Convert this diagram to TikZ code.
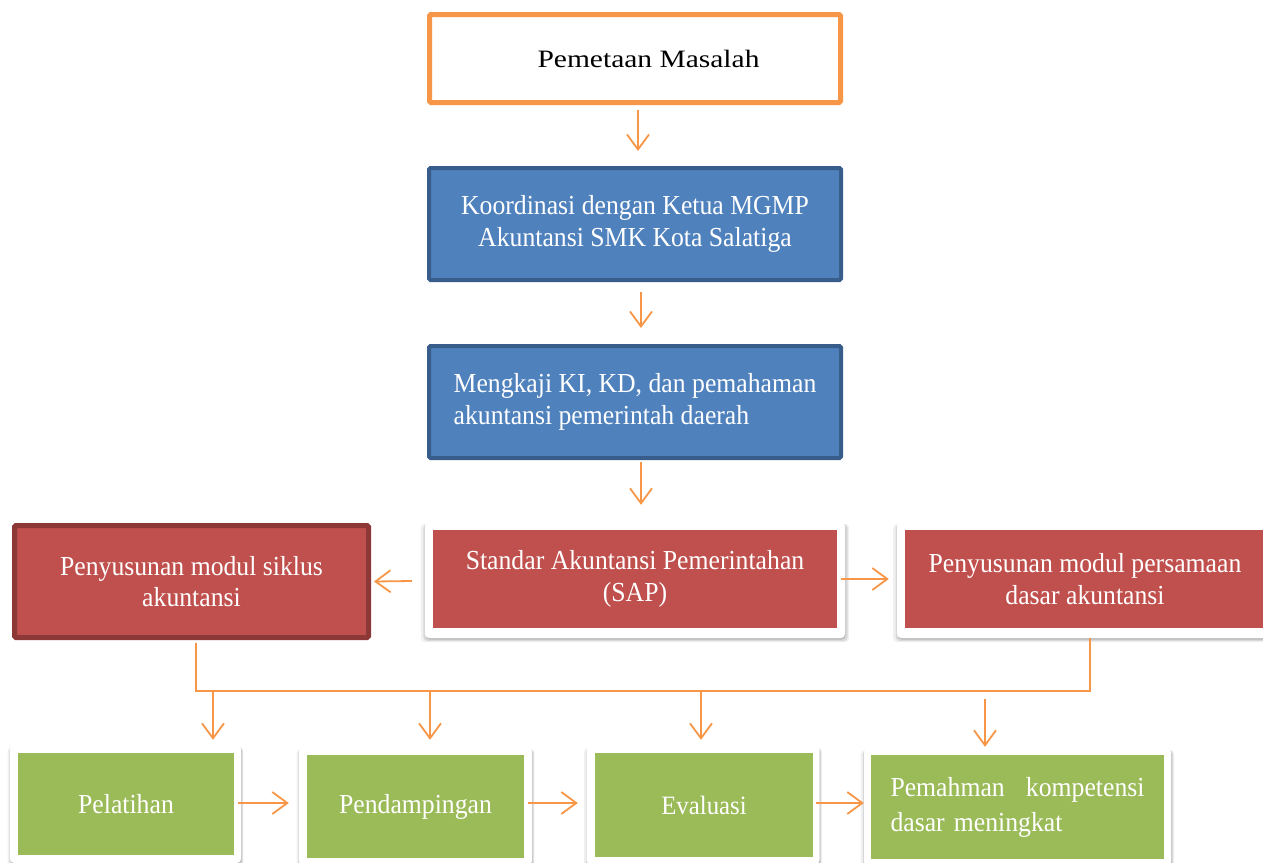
\documentclass[tikz,border=0pt]{standalone}
\usepackage{fontspec}
\setmainfont[FakeStretch=0.935]{Liberation Serif}
\newfontfamily\widefont[FakeStretch=1.18]{Liberation Serif}
\usetikzlibrary{arrows.meta,shadows,calc}
\definecolor{orng}{HTML}{F79646}
\definecolor{blu}{HTML}{4F81BD}
\definecolor{bludk}{HTML}{385D8A}
\definecolor{rd}{HTML}{C0504D}
\definecolor{rddk}{HTML}{8C3836}
\definecolor{grn}{HTML}{9BBB59}
\begin{document}
\begin{tikzpicture}[x=1pt,y=-1pt,
  txt/.style={font=\fontsize{27.5}{31.5}\selectfont, align=center, inner sep=0pt},
  topbox/.style={txt, font=\widefont\fontsize{25}{31}\selectfont, fill=white, draw=orng, line width=5pt, minimum width=411pt, minimum height=88pt, rounded corners=1.5pt},
  bluebox/.style={txt, fill=blu, draw=bludk, line width=4pt, minimum width=412pt, minimum height=112pt, text=white, rounded corners=1.5pt},
  redbox/.style={txt, fill=rd, draw=rddk, line width=5pt, minimum width=354pt, minimum height=112pt, text=white, rounded corners=1.5pt},
  frame/.style={fill=white, inner sep=0pt, rounded corners=4pt,
    drop shadow={shadow xshift=0pt, shadow yshift=-3pt, shadow scale=1.02, fill=black, opacity=0.06},
    drop shadow={shadow xshift=0.5pt, shadow yshift=-2.5pt, shadow scale=1.01, fill=black, opacity=0.1},
    drop shadow={shadow xshift=0.5pt, shadow yshift=-1.5pt, shadow scale=1.0, fill=black, opacity=0.14}},
  redin/.style={txt, fill=rd, text=white},
  grnin/.style={txt, fill=grn, text=white},
  link/.style={draw=orng, line width=1.8pt},
  arr/.style={link, -{Straight Barb[length=15pt,width=22pt,line width=1.8pt]}},
]
\useasboundingbox (0,0) rectangle (1263,862);

% top column
\node[topbox] (pem) at (635,58.5) {\hspace*{27pt}Pemetaan Masalah};
\node[bluebox] (koor) at (635,224) {Koordinasi dengan Ketua MGMP\\Akuntansi SMK Kota Salatiga};
\node[bluebox, align=left] (meng) at (635,402) {Mengkaji KI, KD, dan pemahaman\\akuntansi pemerintah daerah};

% middle row
\node[frame, minimum width=420pt, minimum height=116pt] (sapf) at (635,580) {};
\node[redin, minimum width=404pt, minimum height=98pt] (sap) at (635,579) {Standar Akuntansi Pemerintahan\\(SAP)};
\node[redbox] (left) at (191.5,581.5) {Penyusunan modul siklus\\akuntansi};
\node[frame, minimum width=376pt, minimum height=116pt] (rf) at (1085,580) {};
\node[redin, minimum width=360pt, minimum height=98pt] (right) at (1085,579) {Penyusunan modul persamaan\\dasar akuntansi};

% bottom row
\node[frame, minimum width=231pt, minimum height=118pt] (pelf) at (125.5,804) {};
\node[grnin, minimum width=216pt, minimum height=102pt] (pel) at (126,804) {Pelatihan};
\node[frame, minimum width=233pt, minimum height=118pt] (penf) at (415.5,806) {};
\node[grnin, minimum width=217pt, minimum height=103pt, font=\fontsize{27.5}{31}\selectfont] (pen) at (415.5,806.5) {Pendampingan};
\node[frame, minimum width=233pt, minimum height=118pt] (evaf) at (703,805) {};
\node[grnin, minimum width=218pt, minimum height=104pt, font=\fontsize{26.5}{31}\selectfont] (eva) at (704,805) {Evaluasi};
\node[frame, minimum width=307pt, minimum height=118pt] (pemaf) at (1017.5,807) {};
\node[grnin, minimum width=293pt, minimum height=104pt, text width=254pt, align=left, font=\fontsize{27.5}{35}\selectfont] (pema) at (1017.5,807) {Pemahman\hfill kompetensi\\dasar meningkat};

% vertical arrows
\draw[arr] ($(pem.south)+(3,4.5)$) -- ($(koor.north)+(3,-15)$);
\draw[arr] ($(koor.south)+(6,10)$) -- ($(meng.north)+(6,-16)$);
\draw[arr] ($(meng.south)+(6,2)$) -- ($(sapf.north)+(6,-17)$);

% side arrows
\draw[arr] ($(sapf.west)+(-13,1)$) -- ($(left.east)+(3,0)$);
\draw[arr] ($(sapf.east)+(-4,-1)$) -- ($(rf.west)+(-8,-1)$);

% bus
\coordinate (b1) at (196,691);
\coordinate (b2) at (1090,691);
\draw[link] ($(left.south)+(4.5,2.5)$) -- (b1) -- (b2) -- (b2 |- rf.south);
\coordinate (d1) at (213,691);
\coordinate (d2) at (430,691);
\coordinate (d3) at (701,691);
\coordinate (d4) at (985,699);
\draw[arr, shorten >=5pt] (d1) -- (d1 |- pelf.north);
\draw[arr, shorten >=7pt] (d2) -- (d2 |- penf.north);
\draw[arr, shorten >=6pt] (d3) -- (d3 |- evaf.north);
\draw[arr, shorten >=1pt] (d4) -- (d4 |- pemaf.north);

% horizontal arrows
\draw[arr] ($(pel.east)+(4,-1)$) -- ($(penf.west)+(-10,-3)$);
\draw[arr] ($(pen.east)+(4,-3.5)$) -- ($(evaf.west)+(-8.5,-2)$);
\draw[arr] ($(eva.east)+(3,-2)$) -- ($(pemaf.west)+(0,-4)$);
\end{tikzpicture}
\end{document}
